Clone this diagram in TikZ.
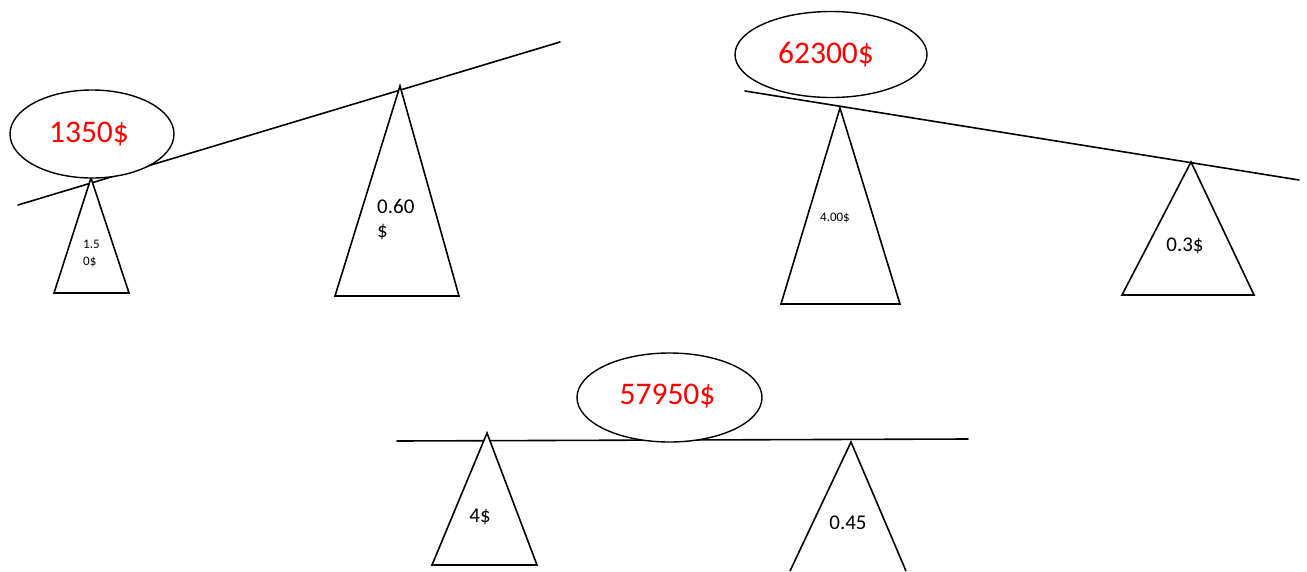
\documentclass[tikz,border=0pt]{standalone}
\usepackage{fontspec}
\setmainfont{Carlito}
\usetikzlibrary{shapes.geometric}
\begin{document}
\begin{tikzpicture}[x=1pt,y=-1pt,
  beam/.style={line width=1.6pt, line cap=round},
  tri/.style={line width=1.6pt, line join=miter, fill=white},
  bubble/.style={ellipse, draw, line width=1.4pt, fill=white, inner sep=0pt},
  price/.style={text=red, font=\fontsize{31.5}{37}\selectfont, inner sep=0pt},
  lbl/.style={font=\fontsize{21}{26}\selectfont, inner sep=0pt},
  small/.style={font=\fontsize{13}{18}\selectfont, inner sep=0pt}]
\useasboundingbox (0,0) rectangle (1307,571);
% ---- scale 1 ----
\coordinate (b1l) at (18,205);
\coordinate (b1r) at (560,42);
\draw[beam] (b1l) -- (b1r);
\draw[tri] (91,178) -- (129,293) -- (54,293) -- cycle;
\draw[tri] (400,86) -- (459,296) -- (335,296) -- cycle;
\node[bubble, minimum width=164pt, minimum height=88pt] (e1) at (92,134) {};
\node[price, anchor=base] (p1) at (89,142) {1350\$};
\node[small, anchor=base west] (s1a) at (83,248) {1.5};
\node[small, anchor=base west] (s1b) at (83,265) {0\$};
\node[lbl, anchor=base west] (s2a) at (377,213) {0.60};
\node[lbl, anchor=base west] (s2b) at (377,237) {\$};
% ---- scale 2 ----
\coordinate (b2l) at (745,91);
\coordinate (b2r) at (1299,180);
\draw[beam] (b2l) -- (b2r);
\draw[tri] (840,108) -- (900,304) -- (781,304) -- cycle;
\draw[tri] (1191,162) -- (1254,295) -- (1122,295) -- cycle;
\node[bubble, minimum width=192pt, minimum height=86pt] (e2) at (831,54.5) {};
\node[price, anchor=base] (p2) at (826,63) {62300\$};
\node[small, anchor=base] (s3) at (835,221) {4.00\$};
\node[lbl, anchor=base] (s4) at (1185,251) {0.3\$};
% ---- scale 3 ----
\coordinate (b3l) at (397,441);
\coordinate (b3r) at (968,439);
\draw[beam] (b3l) -- (b3r);
\draw[tri] (487,433) -- (537,565) -- (432,565) -- cycle;
\draw[line width=1.6pt, line join=miter] (790,571) -- (851,442) -- (906,571);
\node[bubble, minimum width=185pt, minimum height=89pt] (e3) at (669.5,397.5) {};
\node[price, anchor=base] (p3) at (667.5,404) {57950\$};
\node[lbl, anchor=base] (s5) at (480,522) {4\$};
\node[lbl, anchor=base] (s6) at (848,529) {0.45};
\end{tikzpicture}
\end{document}
